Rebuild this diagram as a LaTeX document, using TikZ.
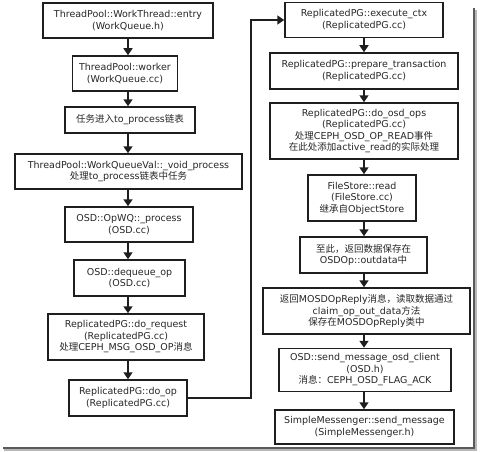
\documentclass[tikz,border=0pt]{standalone}
\usepackage{fontspec}
\setmainfont{DejaVu Sans}
\newfontfamily\cjk{Noto Sans CJK SC}
\usetikzlibrary{arrows.meta}
\newcommand\zh[1]{{\cjk #1}}
\definecolor{boxc}{HTML}{1E1E1E}
\definecolor{txt}{HTML}{262626}
\definecolor{frm}{HTML}{5A5A5A}
\definecolor{frmlight}{HTML}{B8B8B8}
\begin{document}
\begin{tikzpicture}[x=1pt,y=-1pt,
  box/.style={draw=boxc, line width=1.5pt, fill=white, align=center, inner sep=1pt,
    font=\fontsize{9.5}{11.5}\selectfont, text=txt},
  arr/.style={line width=1.6pt, draw=boxc, -{Triangle[width=9pt,length=7pt]}}]
\useasboundingbox (0,0) rectangle (482,452);
% frame shadow
\draw[frmlight, line width=1.5pt] (4,450) -- (476,450) -- (476,10);
\draw[frm, line width=1.2pt] (3,448) -- (474,448) -- (474,8);
% left column
\node[box, minimum width=170pt, minimum height=35pt] (n1) at (128,20.5) {ThreadPool::WorkThread::entry\\(WorkQueue.h)};
\node[box, minimum width=105pt, minimum height=35pt] (n2) at (125,73.5) {ThreadPool::worker\\(WorkQueue.cc)};
\node[box, minimum width=130pt, minimum height=26pt] (n3) at (130,120) {\zh{任务进入}to\_process\zh{链表}};
\node[box, minimum width=227pt, minimum height=35pt] (n4) at (128.5,171.5) {ThreadPool::WorkQueueVal::\_void\_process\\\zh{处理}to\_process\zh{链表中任务}};
\node[box, minimum width=128pt, minimum height=35pt] (n5) at (129,224.5) {OSD::OpWQ::\_process\\(OSD.cc)};
\node[box, minimum width=111pt, minimum height=36pt] (n6) at (129.5,278) {OSD::dequeue\_op\\(OSD.cc)};
\node[box, minimum width=156pt, minimum height=46pt] (n7) at (126,337) {ReplicatedPG::do\_request\\(ReplicatedPG.cc)\\\zh{处理}CEPH\_MSG\_OSD\_OP\zh{消息}};
\node[box, minimum width=118pt, minimum height=36pt] (n8) at (128,398) {ReplicatedPG::do\_op\\(ReplicatedPG.cc)};
% right column
\node[box, minimum width=158pt, minimum height=35pt] (n9) at (364,20) {ReplicatedPG::execute\_ctx\\(ReplicatedPG.cc)};
\node[box, minimum width=188pt, minimum height=36pt] (n10) at (364,71) {ReplicatedPG::prepare\_transaction\\(ReplicatedPG.cc)};
\node[box, minimum width=188pt, minimum height=56pt] (n11) at (364,131) {ReplicatedPG::do\_osd\_ops\\(ReplicatedPG.cc)\\\zh{处理}CEPH\_OSD\_OP\_READ\zh{事件}\\\zh{在此处添加}active\_read\zh{的实际处理}};
\node[box, minimum width=108pt, minimum height=46pt] (n12) at (362,198) {FileStore::read\\(FileStore.cc)\\\zh{继承自}ObjectStore};
\node[box, minimum width=127pt, minimum height=36pt] (n13) at (363.5,255) {\zh{至此，返回数据保存在}\\OSDOp::outdata\zh{中}};
\node[box, minimum width=207pt, minimum height=46pt] (n14) at (366.5,311) {\zh{返回}MOSDOpReply\zh{消息，读取数据通过}\\claim\_op\_out\_data\zh{方法}\\\zh{保存在}MOSDOpReply\zh{类中}};
\node[box, minimum width=172pt, minimum height=43pt] (n15) at (365,370) {OSD::send\_message\_osd\_client\\(OSD.h)\\\zh{消息：}CEPH\_OSD\_FLAG\_ACK};
\node[box, minimum width=179pt, minimum height=34pt] (n16) at (364.5,427) {SimpleMessenger::send\_message\\(SimpleMessenger.h)};
% vertical arrows
\foreach \a/\b in {n1/n2,n2/n3,n3/n4,n4/n5,n5/n6,n6/n7,n7/n8}
  \draw[arr] (128,0 |- \a.south) -- (128,0 |- \b.north);
\foreach \a/\b in {n9/n10,n10/n11,n11/n12,n12/n13,n13/n14,n14/n15,n15/n16}
  \draw[arr] (364,0 |- \a.south) -- (364,0 |- \b.north);
% loop connector
\draw[arr] (n8.east) -- ++(63,0) |- (n9.west);
\end{tikzpicture}
\end{document}
